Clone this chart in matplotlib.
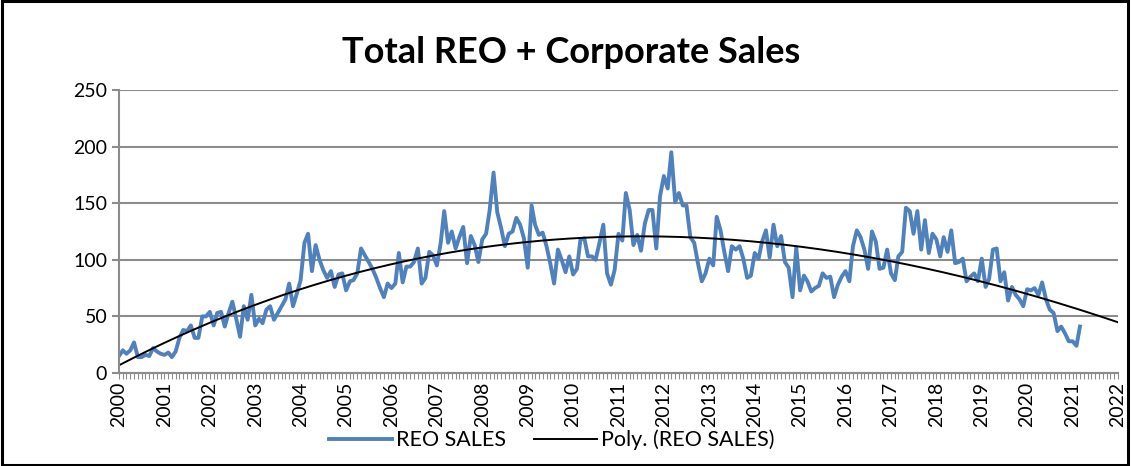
import matplotlib.dates as mdates
import matplotlib.pyplot as plt
import numpy as np
import pandas as pd
from matplotlib.patches import Rectangle

plt.rcParams["font.family"] = ["Lato", "DejaVu Sans"]

# monthly REO + corporate sales, Jan 2000 .. Mar 2021
sales_2000_2004 = [
    15, 20, 17, 20, 27, 14, 14, 16, 15, 22, 19, 17,
    16, 18, 14, 19, 31, 38, 37, 42, 31, 31, 50, 50,
    54, 42, 53, 54, 41, 53, 63, 48, 32, 59, 47, 69,
    42, 48, 44, 56, 59, 47, 53, 59, 65, 79, 59, 70,
    82, 115, 123, 90, 113, 100, 91, 84, 90, 76, 87, 88,
]
sales_2005_2009 = [
    73, 81, 82, 88, 110, 104, 98, 92, 84, 75, 67, 79,
    75, 79, 106, 80, 94, 94, 98, 110, 79, 84, 107, 104,
    95, 115, 143, 115, 125, 110, 120, 129, 97, 121, 113, 98,
    118, 123, 144, 177, 142, 128, 112, 123, 125, 137, 131, 119,
    93, 148, 131, 122, 124, 112, 97, 79, 109, 100, 89, 103,
]
sales_2010_2014 = [
    87, 92, 118, 119, 103, 103, 100, 115, 131, 88, 78, 91,
    123, 117, 159, 144, 113, 122, 108, 132, 144, 144, 110, 156,
    174, 163, 195, 151, 159, 148, 148, 120, 115, 97, 81, 88,
    101, 95, 138, 126, 107, 90, 112, 109, 112, 101, 84, 86,
    106, 101, 116, 126, 102, 131, 112, 121, 98, 93, 67, 111,
]
sales_2015_2021 = [
    73, 86, 81, 72, 75, 77, 88, 84, 85, 67, 78, 85,
    90, 81, 112, 126, 120, 109, 92, 125, 116, 92, 93, 109,
    88, 82, 103, 107, 146, 143, 123, 143, 109, 135, 106, 123,
    118, 103, 120, 107, 126, 97, 98, 101, 81, 85, 88, 81,
    101, 76, 83, 109, 110, 81, 89, 64, 76, 69, 65, 59,
    74, 73, 75, 69, 80, 65, 56, 53, 37, 41, 35, 28,
    28, 24, 41,
]
reo_sales = sales_2000_2004 + sales_2005_2009 + sales_2010_2014 + sales_2015_2021
months = pd.date_range("2000-01-01", periods=len(reo_sales), freq="MS")
year_ticks = pd.date_range("2000-01-01", "2022-01-01", freq="YS")

fig = plt.figure(figsize=(11.31, 4.66), dpi=100)
ax = fig.add_axes([0.1052, 0.1996, 0.8833, 0.6073])

grid_color = "#8C8C8C"
ax.set_ylim(0, 250)
ax.set_yticks(range(0, 251, 50))
ax.yaxis.grid(True, color=grid_color, linewidth=1.5)
ax.set_axisbelow(True)

x_num = mdates.date2num(months)
ax.plot(x_num, reo_sales, color="#4F81BD", linewidth=2.8, label="REO SALES",
        solid_joinstyle="round")

# Excel-style polynomial trendline, carried forward to 2022
x0 = x_num[0]
coef = np.polyfit(x_num - x0, reo_sales, 3)
trend_x = np.linspace(x0, mdates.date2num(year_ticks[-1]), 400)
ax.plot(trend_x, np.polyval(coef, trend_x - x0), color="black", linewidth=1.4,
        label="Poly. (REO SALES)")

ax.set_xlim(mdates.date2num(year_ticks[0]), mdates.date2num(year_ticks[-1]))
ax.set_xticks(mdates.date2num(year_ticks))
ax.set_xticklabels([str(d.year) for d in year_ticks], rotation=90)
ax.xaxis.set_minor_locator(mdates.MonthLocator())

for side in ["top", "right"]:
    ax.spines[side].set_visible(False)
for side in ["left", "bottom"]:
    ax.spines[side].set_color(grid_color)
    ax.spines[side].set_linewidth(1.5)

ax.tick_params(axis="y", length=5, width=1.5, color=grid_color, pad=3.5,
               labelsize=14, labelcolor="black")
ax.tick_params(axis="x", which="both", length=4, width=0.8, color=grid_color,
               pad=2.5, labelsize=14, labelcolor="black")

fig.text(0.505, 0.888, "Total REO + Corporate Sales", ha="center", va="center",
         fontsize=26, fontweight="bold")

fig.legend(loc="center", bbox_to_anchor=(0.488, 0.056), ncol=2, frameon=False,
           fontsize=15.5, handlelength=2.9, handletextpad=0.2, columnspacing=1.3)

fig.add_artist(Rectangle((0.0015, 0.003), 0.996, 0.994, transform=fig.transFigure,
                         fill=False, edgecolor="black", linewidth=2.2))

fig.savefig("out.png", dpi=100)
